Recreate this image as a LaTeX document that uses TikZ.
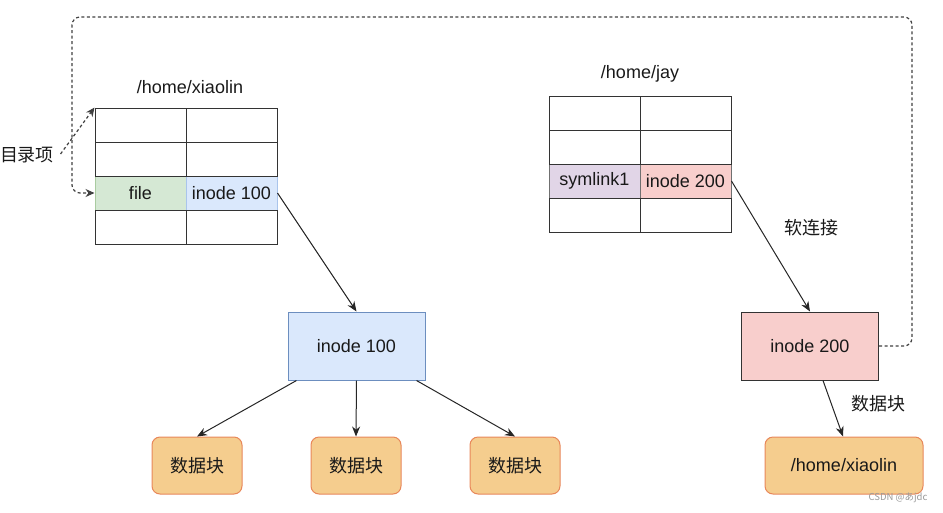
\documentclass[tikz,border=0pt]{standalone}
\usepackage{fontspec}
\setmainfont{Liberation Sans}
\newfontfamily\cjk{Noto Sans CJK SC}
\newfontfamily\jpf{Noto Sans CJK JP}
\usetikzlibrary{arrows.meta,calc}
\definecolor{gfill}{HTML}{D5E8D4}
\definecolor{gline}{HTML}{A9CBA0}
\definecolor{bfill}{HTML}{DAE8FC}
\definecolor{bline}{HTML}{6C8EBF}
\definecolor{bline2}{HTML}{A9C4EB}
\definecolor{rfill}{HTML}{F8CECC}
\definecolor{pfill}{HTML}{E1D5E7}
\definecolor{ofill}{HTML}{F5CD8E}
\definecolor{oline}{HTML}{E8875A}
\definecolor{tline}{HTML}{333333}
\tikzset{
  x=1pt, y=-1pt,
  txt/.style={font=\fontsize{18}{21}\selectfont, text=black!90},
  cjktxt/.style={font=\cjk\fontsize{18}{21}\selectfont, text=black!90},
  cell/.style={draw=tline, line width=1pt, minimum width=91pt, minimum height=34pt, inner sep=0pt, txt},
  ibox/.style={draw, line width=1pt, minimum width=137pt, minimum height=68pt, txt},
  dblock/.style={draw=oline, fill=ofill, line width=1pt, rounded corners=8pt, minimum height=57pt, txt},
  conn/.style={draw=black!85, line width=1pt, -{Stealth[length=10pt,width=8pt]}},
  dconn/.style={draw=black!75, line width=1.2pt, dash pattern=on 3pt off 2.5pt},
}
\begin{document}
\begin{tikzpicture}
\useasboundingbox (0,0) rectangle (943,512);
% left table (coloured cells first, plain cells drawn over shared edges)
\node[txt] (lt) at (190,87) {/home/xiaolin};
\node[cell, draw=gline, fill=gfill] (file) at (140.5,193) {file};
\node[cell, draw=bline2, fill=bfill] (ino1) at (231.5,193) {inode 100};
\node[cell] (a11) at (140.5,125) {};
\node[cell] (a12) at (231.5,125) {};
\node[cell] (a21) at (140.5,159) {};
\node[cell] (a22) at (231.5,159) {};
\node[cell] (a41) at (140.5,227) {};
\node[cell] (a42) at (231.5,227) {};
% right table
\node[txt] (rt) at (640,74) {/home/jay};
\node[cell, draw=tline!70, fill=pfill] (sym) at (594.5,181) {symlink1};
\node[cell, draw=tline!70, fill=rfill] (ino2) at (685.5,181) {inode 200};
\node[cell] (b11) at (594.5,113) {};
\node[cell] (b12) at (685.5,113) {};
\node[cell] (b21) at (594.5,147) {};
\node[cell] (b22) at (685.5,147) {};
\node[cell] (b41) at (594.5,215) {};
\node[cell] (b42) at (685.5,215) {};
% label
\node[cjktxt] (ml) at (27,155) {目录项};
% inode boxes
\node[ibox, draw=bline, fill=bfill] (i100) at (356.5,346) {inode 100};
\node[ibox, draw=tline, fill=rfill] (i200) at (810,346) {inode 200};
% data blocks
\node[dblock, minimum width=90pt, cjktxt] (d1) at (197,465.5) {数据块};
\node[dblock, minimum width=90pt, cjktxt] (d2) at (356,465.5) {数据块};
\node[dblock, minimum width=90pt, cjktxt] (d3) at (515,465.5) {数据块};
\node[dblock, minimum width=158pt] (hx) at (844,465.5) {/home/xiaolin};
% edge labels
\node[cjktxt] (lsoft) at (811,228) {软连接};
\node[cjktxt] (ldata) at (878,404) {数据块};
% connectors
\draw[conn] (ino1.east) -- (i100.north);
\draw[conn] (ino2.east) -- (i200.north);
\draw[conn] ([xshift=-60pt]i100.south) -- (d1.north);
\draw[conn] (i100.south) -- (d2.north);
\draw[conn] ([xshift=60pt]i100.south) -- (d3.north);
\draw[conn] ([xshift=13pt]i200.south) -- ([xshift=-1pt]hx.north);
% dashed links
\coordinate (tr) at (912,17);
\coordinate (tl) at (72,17);
\draw[dconn, rounded corners=8pt, -{Stealth[length=9pt,width=8pt]}]
  (i200.east) -| (tr) -- (tl) |- (file.west);
\draw[dconn, -{Stealth[length=9pt,width=8pt]}] ([xshift=3pt,yshift=1pt]ml.east) -- (a11.north west);
% watermark
\node[font=\jpf\fontsize{9.5}{11}\selectfont, text=black!40, inner sep=0pt] (wm) at (898,498) {CSDN @あjdc};
\end{tikzpicture}
\end{document}
